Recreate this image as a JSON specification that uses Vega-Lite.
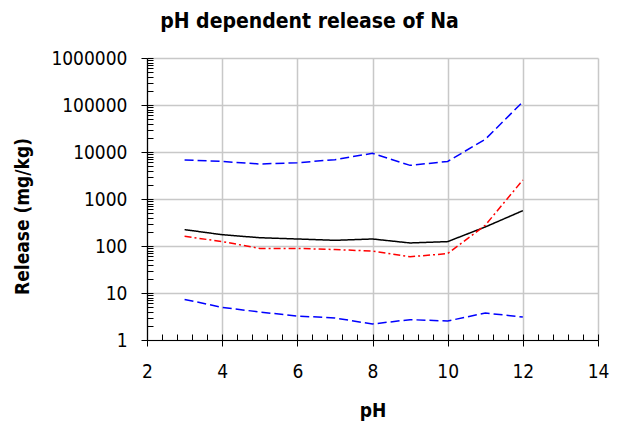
{
  "$schema": "https://vega.github.io/schema/vega-lite/v6.json",
  "autosize": {"type": "none"},
  "width": 451,
  "height": 282,
  "padding": {"left": 147, "top": 58, "right": 21, "bottom": 85},
  "background": "white",
  "title": {
    "text": "pH dependent release of Na",
    "font": "DejaVu Sans Condensed, DejaVu Sans",
    "fontSize": 21,
    "fontWeight": "bold",
    "color": "black",
    "anchor": "middle",
    "frame": "group",
    "dx": -63,
    "offset": 17
  },
  "config": {
    "view": {"stroke": null},
    "axis": {
      "labelFont": "DejaVu Sans Condensed, DejaVu Sans",
      "titleFont": "DejaVu Sans Condensed, DejaVu Sans",
      "labelColor": "black",
      "titleColor": "black",
      "tickColor": "black",
      "domainColor": "black"
    }
  },
  "data": {
    "values": [
      {"pH": 3, "series": "upper", "value": 6760},
      {"pH": 4, "series": "upper", "value": 6300},
      {"pH": 5, "series": "upper", "value": 5560},
      {"pH": 6, "series": "upper", "value": 5900},
      {"pH": 7, "series": "upper", "value": 6870},
      {"pH": 8, "series": "upper", "value": 9370},
      {"pH": 9, "series": "upper", "value": 5200},
      {"pH": 10, "series": "upper", "value": 6300},
      {"pH": 11, "series": "upper", "value": 18600},
      {"pH": 12, "series": "upper", "value": 117000},
      {"pH": 3, "series": "median", "value": 223},
      {"pH": 4, "series": "median", "value": 174},
      {"pH": 5, "series": "median", "value": 150},
      {"pH": 6, "series": "median", "value": 141},
      {"pH": 7, "series": "median", "value": 132},
      {"pH": 8, "series": "median", "value": 141},
      {"pH": 9, "series": "median", "value": 116},
      {"pH": 10, "series": "median", "value": 124},
      {"pH": 11, "series": "median", "value": 254},
      {"pH": 12, "series": "median", "value": 565},
      {"pH": 3, "series": "mean", "value": 161},
      {"pH": 4, "series": "mean", "value": 124},
      {"pH": 5, "series": "mean", "value": 89},
      {"pH": 6, "series": "mean", "value": 89},
      {"pH": 7, "series": "mean", "value": 84},
      {"pH": 8, "series": "mean", "value": 78},
      {"pH": 9, "series": "mean", "value": 59},
      {"pH": 10, "series": "mean", "value": 69},
      {"pH": 11, "series": "mean", "value": 276},
      {"pH": 12, "series": "mean", "value": 2540},
      {"pH": 3, "series": "lower", "value": 7.3},
      {"pH": 4, "series": "lower", "value": 4.95},
      {"pH": 5, "series": "lower", "value": 3.94},
      {"pH": 6, "series": "lower", "value": 3.24},
      {"pH": 7, "series": "lower", "value": 2.94},
      {"pH": 8, "series": "lower", "value": 2.19},
      {"pH": 9, "series": "lower", "value": 2.71},
      {"pH": 10, "series": "lower", "value": 2.54},
      {"pH": 11, "series": "lower", "value": 3.75},
      {"pH": 12, "series": "lower", "value": 3.08}
    ]
  },
  "resolve": {"axis": {"x": "independent", "y": "independent"}},
  "layer": [
    {
      "mark": {"type": "line", "opacity": 0},
      "encoding": {
        "x": {
          "field": "pH", "type": "quantitative",
          "scale": {"domain": [2, 14], "nice": false, "zero": false},
          "axis": {
            "orient": "bottom",
            "values": [2, 2.4, 2.8, 3.2, 3.6, 4, 4.4, 4.8, 5.2, 5.6, 6, 6.4, 6.8, 7.2, 7.6, 8, 8.4, 8.8, 9.2, 9.6, 10, 10.4, 10.8, 11.2, 11.6, 12, 12.4, 12.8, 13.2, 13.6, 14],
            "tickSize": -6, "labels": false, "domain": false, "grid": false, "title": null
          }
        },
        "y": {
          "field": "value", "type": "quantitative",
          "scale": {"type": "log", "domain": [1, 1000000], "nice": false},
          "axis": {
            "orient": "left",
            "values": [1, 2, 3, 4, 5, 6, 7, 8, 9, 10, 20, 30, 40, 50, 60, 70, 80, 90, 100, 200, 300, 400, 500, 600, 700, 800, 900, 1000, 2000, 3000, 4000, 5000, 6000, 7000, 8000, 9000, 10000, 20000, 30000, 40000, 50000, 60000, 70000, 80000, 90000, 100000, 200000, 300000, 400000, 500000, 600000, 700000, 800000, 900000, 1000000],
            "tickSize": -6, "labels": false, "domain": false, "grid": false, "title": null
          }
        },
        "detail": {"field": "series"}
      }
    },
    {
      "mark": {"type": "line", "strokeWidth": 1.5},
      "encoding": {
        "x": {
          "field": "pH", "type": "quantitative",
          "scale": {"domain": [2, 14], "nice": false, "zero": false},
          "axis": {
            "orient": "bottom",
            "values": [2, 4, 6, 8, 10, 12, 14],
            "tickSize": 6, "labelPadding": 16, "labelFontSize": 19, "labelFlush": false,
            "grid": true, "gridColor": "#c8c8c8", "gridWidth": 1.5,
            "domainWidth": 1.2,
            "title": "pH", "titleFontSize": 19, "titleFontWeight": "bold", "titlePadding": 20
          }
        },
        "y": {
          "field": "value", "type": "quantitative",
          "scale": {"type": "log", "domain": [1, 1000000], "nice": false},
          "axis": {
            "orient": "left",
            "values": [1, 10, 100, 1000, 10000, 100000, 1000000],
            "format": "d",
            "tickSize": 6, "labelPadding": 14, "labelFontSize": 19, "labelFlush": false,
            "grid": true, "gridColor": "#c8c8c8", "gridWidth": 1.5,
            "domainWidth": 1.2,
            "title": "Release (mg/kg)", "titleFontSize": 19, "titleFontWeight": "bold", "titlePadding": 18, "titleY": 158
          }
        },
        "detail": {"field": "series"},
        "color": {
          "field": "series", "type": "nominal",
          "scale": {"domain": ["upper", "median", "mean", "lower"], "range": ["#0000ff", "#000000", "#ff0000", "#0000ff"]},
          "legend": null
        },
        "strokeDash": {
          "field": "series", "type": "nominal",
          "scale": {"domain": ["upper", "median", "mean", "lower"], "range": [[9, 4], [1, 0], [7, 3, 2, 3], [9, 4]]},
          "legend": null
        }
      }
    }
  ]
}
